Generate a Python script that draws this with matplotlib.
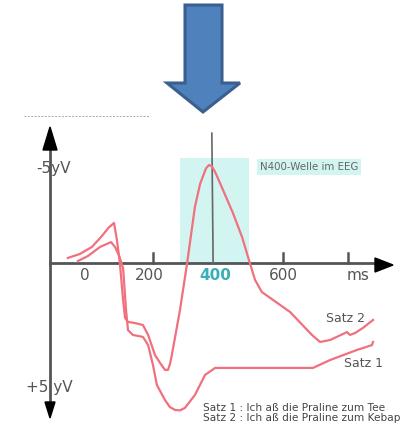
import matplotlib
matplotlib.use('Agg')
import matplotlib.pyplot as plt
from matplotlib.patches import Polygon, Rectangle

# Zeit in ms, Spannung in µV (negativ nach oben)
satz2_ms = [-62, -25, 12, 43, 63, 80, 89, 98, 108, 114, 123, 145, 169, 185, 206, 222, 237,
            246, 252, 258, 283, 305, 329, 345, 363, 372, 381, 391, 406, 446, 474, 498, 514,
            535, 622, 689, 714, 745, 797, 806, 822, 846, 877]
satz2_uv = [-0.23, -0.41, -0.73, -1.23, -1.6, -1.82, -1.05, 0, 1.68, 2.5, 2.68, 2.73, 2.82,
            3.27, 4.18, 4.55, 4.86, 4.86, 4.6, 4.18, 2.14, 0, -2.55, -3.6, -4.3, -4.45,
            -4.4, -4.14, -3.64, -2.27, -1.18, 0, 0.77, 1.32, 2.23, 3.27, 3.59, 3.5, 3.14,
            3.27, 3.18, 2.95, 2.59]

satz1_ms = [-31, 0, 37, 71, 83, 95, 108, 117, 123, 138, 169, 185, 200, 212, 237, 252, 268,
            283, 298, 329, 360, 391, 437, 692, 745, 828, 874, 877]
satz1_uv = [-0.09, -0.32, -0.73, -0.95, -0.73, -0.36, 0.23, 2.14, 3.05, 3.27, 3.36, 3.73,
            4.64, 5.55, 6.23, 6.55, 6.68, 6.7, 6.59, 6.0, 5.09, 4.77, 4.77, 4.77, 4.41,
            3.95, 3.73, 3.59]

tick_ms = [200, 600, 800]
tick_labels = ['0', '200', '400', '600', 'ms']
tick_label_ms = [-10, 190, 390, 602, 830]
n400_von, n400_bis = 283, 495
n400_linie = 381

fig = plt.figure(figsize=(4.01, 4.25), dpi=100)
ax = fig.add_axes([0, 0, 1, 1])
ax.set_xlim(-270.8, 963.1)
ax.set_ylim(7.364, -11.955)
ax.axis('off')

# Pixel -> Daten, nur für Dekoration
def px(x, y):
    return ((x - 88) / 0.325, (y - 263) / 22)

grau = '#555555'
rot = '#F0707E'

# grosser Pfeil oben
pfeil = [px(185, 5), px(222, 5), px(222, 83), px(240, 83), px(203, 112),
         px(167, 83), px(185, 83)]
ax.add_patch(Polygon(pfeil, closed=True, facecolor='#4F81BD', edgecolor='#3B5F8E', lw=2.2, zorder=5))

# gestrichelte Linie
a, b = px(24, 116), px(150, 116)
ax.plot([a[0], b[0]], [a[1], b[1]], color='#aaaaaa', lw=0.7, ls=(0, (2, 1.5)))

# N400 Bereich
ax.add_patch(Rectangle((n400_von, -4.77), n400_bis - n400_von, 4.77,
                       facecolor='#D3F5F2', edgecolor='none', zorder=1))
ax.plot([n400_linie, n400_linie + 4], [-5.9, 0], color='#666666', lw=1.2, zorder=3)

# Achsen
a, b = px(50, 140), px(50, 405)
ax.plot([a[0], b[0]], [a[1], b[1]], color=grau, lw=2, zorder=2)
a, b = px(50, 263), px(378, 263)
ax.plot([a[0], b[0]], [a[1], b[1]], color=grau, lw=2, zorder=2)
ax.add_patch(Polygon([px(50, 127), px(57, 150), px(43, 150)], closed=True, color='black', zorder=4))
ax.add_patch(Polygon([px(50, 418), px(55, 402), px(45, 402)], closed=True, color='black', zorder=4))
ax.add_patch(Polygon([px(393, 265), px(375, 258), px(375, 272)], closed=True, color='black', zorder=4))

for t in tick_ms:
    ax.plot([t, t], [-0.45, 0], color=grau, lw=1.8, zorder=2)

for lab, t in zip(tick_labels, tick_label_ms):
    col = '#3AAFB9' if lab == '400' else grau
    fw = 'bold' if lab == '400' else 'normal'
    ax.text(t, 0.55, lab, ha='center', va='center', fontsize=11, color=col, fontweight=fw)

ax.text(*px(53, 168), '-5yV', ha='center', va='center', fontsize=11, color=grau)
ax.text(*px(49, 388), '+5 yV', ha='center', va='center', fontsize=11, color=grau)

# Kurven
ax.plot(satz2_ms, satz2_uv, color=rot, lw=1.6, zorder=3, solid_joinstyle='round')
ax.plot(satz1_ms, satz1_uv, color=rot, lw=1.6, zorder=3, solid_joinstyle='round')

ax.text(*px(309, 167), 'N400-Welle im EEG', ha='center', va='center', fontsize=7.4, color='#666666',
        bbox=dict(boxstyle='square,pad=0.3', facecolor='#D3F5F2', edgecolor='none'))
ax.text(*px(346, 319), 'Satz 2', ha='center', va='center', fontsize=9, color=grau)
ax.text(*px(364, 364), 'Satz 1', ha='center', va='center', fontsize=9, color=grau)
ax.text(*px(203, 408), 'Satz 1 : Ich aß die Praline zum Tee', ha='left', va='center', fontsize=7.6, color='#444444')
ax.text(*px(203, 418), 'Satz 2 : Ich aß die Praline zum Kebap', ha='left', va='center', fontsize=7.6, color='#444444')

fig.savefig('out.png', dpi=100)
